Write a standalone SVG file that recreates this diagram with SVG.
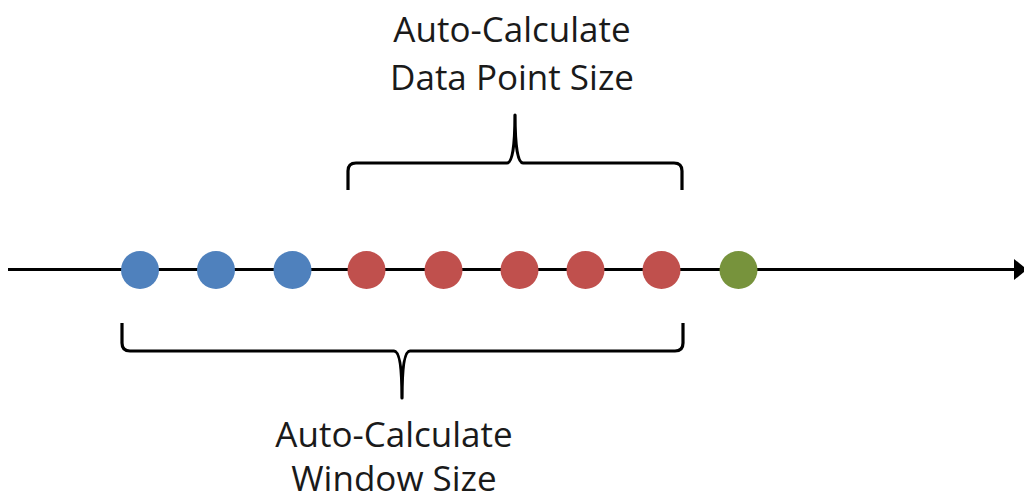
<svg xmlns="http://www.w3.org/2000/svg" width="1024" height="501" viewBox="0 0 1024 501">
<style>
.t{font-family:"Open Sans","Liberation Sans",sans-serif;font-size:35px;fill:#1a1a1a;text-anchor:middle}
.br{fill:none;stroke:#000;stroke-width:3.2;stroke-linejoin:round;stroke-linecap:butt}
.blue{fill:#4F81BD}.red{fill:#C0504D}.green{fill:#77933C}
</style>
<rect width="1024" height="501" fill="#fff"/>
<g id="connectors">
<line x1="8" y1="269.5" x2="1016" y2="269.5" stroke="#000" stroke-width="3"/>
<polygon points="1014,259 1027,269.5 1014,280" fill="#000"/>
<path class="br" d="M348,190 L348,171 Q348,163 356,163 L507,163 Q515,163 515,115 Q515,163 523,163 L674,163 Q682,163 682,171 L682,190"/>
<path class="br" d="M122,323 L122,343 Q122,351 130,351 L394,351 Q402,351 402,398 Q402,351 410,351 L675,351 Q683,351 683,343 L683,323"/>
</g>
<g id="p1"><circle class="blue" cx="140" cy="270" r="19"/></g>
<g id="p2"><circle class="blue" cx="216" cy="270" r="19"/></g>
<g id="p3"><circle class="blue" cx="292.5" cy="270" r="19"/></g>
<g id="p4"><circle class="red" cx="366.5" cy="270" r="19"/></g>
<g id="p5"><circle class="red" cx="443.5" cy="270" r="19"/></g>
<g id="p6"><circle class="red" cx="519.5" cy="270" r="19"/></g>
<g id="p7"><circle class="red" cx="585.5" cy="270" r="19"/></g>
<g id="p8"><circle class="red" cx="661.5" cy="270" r="19"/></g>
<g id="p9"><circle class="green" cx="738.5" cy="270" r="19"/></g>
<g id="label-top">
<text class="t" x="512" y="42">Auto-Calculate</text>
<text class="t" x="512" y="90">Data Point Size</text>
</g>
<g id="label-bottom">
<text class="t" x="394" y="447">Auto-Calculate</text>
<text class="t" x="394" y="491">Window Size</text>
</g>
</svg>
